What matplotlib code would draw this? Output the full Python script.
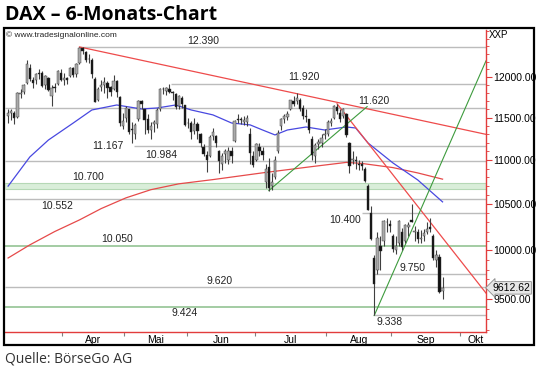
import matplotlib.pyplot as plt
from matplotlib.patches import Rectangle
from matplotlib.ticker import FixedLocator, NullFormatter, FuncFormatter

plt.rcParams['font.family'] = ['Liberation Sans', 'DejaVu Sans']

# daily candles, 6 Mar 2015 - 23 Sep 2015 (trading days)
opens = [11520, 11560, 11560, 11510, 11790, 11820, 11930, 12120, 11970, 11960, 12050, 12060, 11900, 11990, 11760, 11880, 11910, 12060,
         11970, 11990, 12020, 12120, 12040, 12180, 12380, 12330, 12230, 12220, 11980, 11720, 11880, 11900, 11930, 11880, 11850, 11950, 11750, 11400,
         11500, 11600, 11360, 11300, 11480, 11700, 11600, 11480, 11350, 11420, 11420, 11600, 11850, 11830, 11850, 11815, 11790, 11640, 11740, 11650,
         11430, 11440, 11340, 11420, 11300, 11150, 11060, 11040, 11280, 11280, 11100, 10950, 11070, 11000, 11100, 11220, 11490, 11480, 11450, 11450, 11300, 11050,
         11000, 11150, 11100, 10750, 10920, 10700, 10800, 11100, 11400, 11480, 11510, 11600, 11700, 11700, 11720, 11620, 11520, 11480, 11250, 11050, 11180, 11200, 11290,
         11300, 11430, 11500, 11630, 11560, 11520, 11550, 11200, 11000, 11000, 10950, 10950, 10900, 10700, 10400, 9920, 9800, 10050, 10100, 10300, 10280,
         10150, 10000, 10080, 10200, 10100, 10250, 10330, 10200, 10200, 10120, 10150, 10200, 10250, 10150, 9900, 9930, 9580]
highs = [11600, 11610, 11580, 11810, 11850, 11920, 12219, 12170, 12000, 12060, 12110, 12080, 12030, 12010, 11900, 11930, 12090, 12100,
         12050, 12010, 12130, 12130, 12180, 12390, 12390, 12340, 12300, 12240, 12000, 11880, 11960, 12000, 11950, 11890, 12030, 11960, 11760, 11560,
         11640, 11610, 11450, 11430, 11720, 11720, 11610, 11550, 11450, 11470, 11620, 11860, 11880, 11880, 11920, 11830, 11800, 11780, 11760, 11660,
         11500, 11460, 11500, 11450, 11320, 11190, 11100, 11290, 11370, 11290, 11110, 11080, 11130, 11150, 11150, 11470, 11550, 11510, 11520, 11530, 11380, 11100,
         11200, 11200, 11150, 10950, 11020, 10850, 11050, 11350, 11500, 11540, 11580, 11720, 11760, 11800, 11740, 11650, 11600, 11490, 11280, 11200, 11250, 11300, 11360,
         11470, 11500, 11650, 11670, 11600, 11620, 11560, 11210, 11100, 11050, 11000, 10990, 10920, 10720, 10480, 9950, 10200, 10150, 10320, 10350, 10330,
         10170, 10150, 10320, 10240, 10280, 10300, 10500, 10260, 10230, 10220, 10230, 10300, 10350, 10170, 10000, 9960, 9720]
lows = [11440, 11470, 11420, 11500, 11740, 11790, 11920, 11950, 11860, 11920, 11980, 11880, 11850, 11830, 11640, 11810, 11900, 11950,
        11900, 11920, 12000, 12010, 12000, 12170, 12300, 12200, 12180, 11990, 11690, 11700, 11830, 11800, 11740, 11760, 11840, 11750, 11400, 11360,
        11450, 11300, 11200, 11240, 11460, 11600, 11300, 11320, 11250, 11330, 11380, 11580, 11790, 11780, 11800, 11720, 11600, 11600, 11620, 11400,
        11380, 11250, 11300, 11250, 11150, 11040, 10860, 11030, 11230, 11150, 10850, 10880, 10960, 10950, 10960, 11210, 11430, 11420, 11410, 11400, 10950, 10920,
        10990, 11050, 11000, 10680, 10650, 10660, 10780, 11080, 11350, 11440, 11470, 11590, 11640, 11670, 11580, 11480, 11450, 11320, 11000, 10960, 11130, 11150, 11250,
        11280, 11400, 11480, 11540, 11450, 11500, 11270, 10850, 10950, 10900, 10880, 10880, 10750, 10430, 10110, 9338, 9750, 9800, 10050, 10200, 10200,
        9980, 9960, 10050, 10000, 10080, 10150, 10300, 10100, 10080, 10080, 10100, 10170, 10200, 9900, 9830, 9560, 9500]
closes = [11551, 11582, 11500, 11806, 11799, 11901, 12168, 11980, 11922, 12036, 12039, 11895, 12019, 11843, 11865, 11868, 12086, 11966,
          11988, 11967, 12123, 12035, 12166, 12374, 12338, 12227, 12231, 12039, 11689, 11849, 11908, 11939, 11867, 11811, 11957, 11811, 11432, 11454,
          11621, 11327, 11350, 11416, 11709, 11673, 11472, 11351, 11400, 11447, 11594, 11853, 11848, 11864, 11815, 11800, 11625, 11771, 11673, 11413,
          11436, 11327, 11419, 11340, 11197, 11064, 11001, 11265, 11333, 11196, 10984, 11044, 11100, 11100, 11040, 11460, 11471, 11472, 11473, 11492, 11083, 10945,
          11180, 11099, 11058, 10890, 10676, 10747, 10997, 11316, 11484, 11516, 11540, 11716, 11673, 11735, 11604, 11520, 11512, 11347, 11056, 11173, 11211, 11257, 11309,
          11444, 11456, 11637, 11585, 11490, 11604, 11293, 10924, 11015, 10985, 10940, 10930, 10755, 10432, 10124, 9648, 10128, 9997, 10315, 10298, 10259,
          10016, 10048, 10318, 10038, 10271, 10271, 10303, 10210, 10123, 10131, 10188, 10227, 10229, 9916, 9948, 9570, 9612.62]

# first trading day index of each month, month names
month_starts = [18, 38, 58, 80, 103, 124, 146]
month_names = ['Apr', 'Mai', 'Jun', 'Jul', 'Aug', 'Sep', 'Okt']

# moving averages (bar index, value)
ma_fast_x = [0, 7, 13, 21, 27, 35, 43, 48, 54, 59, 66, 72, 78, 82, 86, 90, 96, 102, 109, 112, 116, 124, 132, 140]
ma_fast_y = [10700, 11034, 11233, 11436, 11594, 11655, 11606, 11618, 11655, 11594, 11534, 11436, 11413, 11352, 11293, 11352,
             11388, 11352, 11388, 11376, 11197, 10965, 10770, 10524]
ma_slow_x = [0, 7, 15, 23, 30, 38, 46, 55, 66, 82, 98, 109, 114, 124, 132, 140]
ma_slow_y = [9920, 10058, 10200, 10326, 10450, 10569, 10660, 10726, 10774, 10851, 10923, 10971, 10959, 10911, 10850, 10779]

# trend lines (start index, start value, end index, end value)
red_trends = [(23, 12390, 154, 11300), (106, 11670, 154, 9560)]
green_trends = [(84, 10650, 115.7, 11635), (118, 9338, 154, 12210)]

# support / resistance levels
levels = [12390, 11920, 11620, 11167, 10984, 10552, 10400, 10050, 9750, 9620, 9424, 9338]
level_from = [23, 52.5, -1, 40.5, -1, -1, 114, -1, 117.5, -1, -1, 117.5]
level_green = [False, False, False, False, False, False, False, True, False, False, True, False]
band = (10665, 10730)
last_price = 9612.62

W, H = 540, 371
fig = plt.figure(figsize=(W / 100, H / 100), dpi=100)
ax = fig.add_axes([5 / W, 1 - 332 / H, 481 / W, 302 / H])
ax.set_yscale('log')
ax.set_xlim(-1, 154)
ax.set_ylim(9176, 12613)

# levels
for lv, x0, g in zip(levels, level_from, level_green):
    ax.hlines(lv, x0, 154, color='#9cc89c' if g else '#bcbcbc', lw=1.3 if g else 1.0, zorder=1)
ax.axhspan(band[0], band[1], color='#d9eed9', zorder=0.5, lw=0)
ax.hlines(band, -1, 154, color='#b5d8b5', lw=0.8, zorder=0.6)

# level labels: (index, placement)
label_pos = [(63, 'b'), (95.4, 'b'), (117.7, 'b'), (32.2, 'c'), (49.3, 'b'), (15.8, 't'), (108.6, 't'),
             (35, 'b'), (130.3, 'b'), (68.3, 'b'), (57, 't'), (123, 't')]
for lv, (xi, p) in zip(levels, label_pos):
    txt = f'{lv:,}'.replace(',', '.')
    dy = {'b': 1, 't': -1, 'c': 0}[p]
    va = {'b': 'bottom', 't': 'top', 'c': 'center'}[p]
    ax.annotate(txt, (xi, lv), xytext=(0, dy), textcoords='offset points', ha='center', va=va,
                fontsize=7.5, color='#222222', zorder=3)
ax.annotate('10.700', (25.7, band[1]), xytext=(0, 1), textcoords='offset points', ha='center', va='bottom',
            fontsize=7.5, color='#222222')

# moving averages and trend lines
ax.plot(ma_slow_x, ma_slow_y, color='#e64a4a', lw=0.9, zorder=2)
ax.plot(ma_fast_x, ma_fast_y, color='#4848e0', lw=0.9, zorder=2)
for x0, y0, x1, y1 in red_trends:
    ax.plot([x0, x1], [y0, y1], color='#ee4b4b', lw=0.9, zorder=2)
for x0, y0, x1, y1 in green_trends:
    ax.plot([x0, x1], [y0, y1], color='#3d9b3d', lw=0.8, zorder=2)

# candles
idx = list(range(len(closes)))
ax.vlines(idx, lows, highs, color='#404040', lw=0.8, zorder=4)
bottoms = [min(o, c) for o, c in zip(opens, closes)]
heights = [max(abs(c - o), 8) for o, c in zip(opens, closes)]
fcs = ['#111111' if c < o else '#aaaaaa' for o, c in zip(opens, closes)]
ax.bar(idx, heights, bottom=bottoms, width=0.75, color=fcs, edgecolor='#333333', lw=0.3, zorder=5)

# axes styling
for s in ['top', 'left']:
    ax.spines[s].set_visible(False)
for s in ['right', 'bottom']:
    ax.spines[s].set_color('#e23c3c')
    ax.spines[s].set_linewidth(1.0)
ax.yaxis.tick_right()
ax.yaxis.set_major_locator(FixedLocator([9500, 10000, 10500, 11000, 11500, 12000]))
ax.yaxis.set_major_formatter(FuncFormatter(lambda v, p: f'{v:.2f}'))
ax.yaxis.set_minor_locator(FixedLocator(list(range(9200, 12700, 100))))
ax.yaxis.set_minor_formatter(NullFormatter())
ax.tick_params(axis='y', which='major', color='#e23c3c', length=4, width=0.8, labelsize=7.5, pad=1.5)
ax.tick_params(axis='y', which='minor', color='#e23c3c', length=2, width=0.6)

bounds = [m - 0.5 for m in month_starts]
centers = [(a + b) / 2 for a, b in zip(bounds[:-1], bounds[1:])] + [150.5]
ax.set_xticks(bounds)
ax.set_xticklabels([])
ax.set_xticks(centers, minor=True)
ax.set_xticklabels(month_names, minor=True)
ax.tick_params(axis='x', which='major', color='#808080', length=3, width=0.8)
ax.tick_params(axis='x', which='minor', length=0, pad=2, labelsize=7.5)

# last price tag
ax.annotate(f'{last_price:.2f}', (1.0, last_price), xycoords=('axes fraction', 'data'), xytext=(4.5, 0),
            textcoords='offset points', ha='left', va='center', fontsize=7.5, annotation_clip=False,
            bbox=dict(boxstyle='larrow,pad=0.12', fc='#e6e6e6', ec='#8a8a8a', lw=0.6))

# outer frame and texts
fig.add_artist(Rectangle((4 / W, 1 - 345 / H), 530 / W, 317 / H, transform=fig.transFigure,
                         fill=False, ec='black', lw=1.6))
fig.text(5 / W, 1 - 15 / H, 'DAX – 6-Monats-Chart', fontsize=14, fontweight='bold',
         family=['Open Sans', 'DejaVu Sans'], va='center', ha='left')
fig.text(6 / W, 1 - 35 / H, '© www.tradesignalonline.com', fontsize=6, va='center', ha='left', color='#222222')
fig.text(489 / W, 1 - 35 / H, 'XXP', fontsize=7, va='center', ha='left')
fig.text(5 / W, 1 - 359 / H, 'Quelle: BörseGo AG', fontsize=10,
         family=['Open Sans', 'DejaVu Sans'], va='center', ha='left', color='#333333')

fig.savefig('out.png', dpi=100)
